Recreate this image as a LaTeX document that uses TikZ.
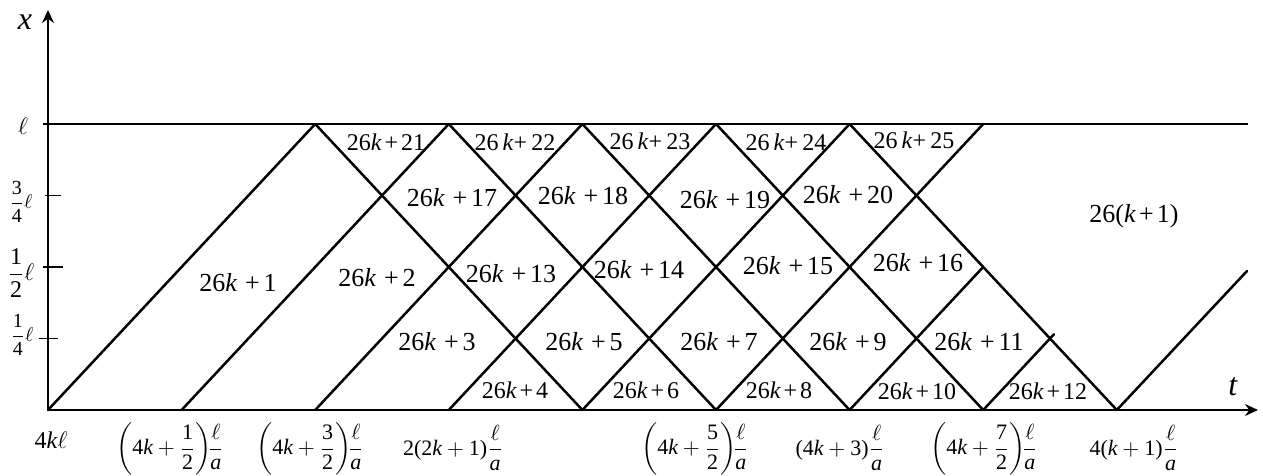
\documentclass[tikz,border=0pt]{standalone}
\usepackage{amsmath}
\usepackage{fontspec}
\setmainfont{Liberation Serif}
\usetikzlibrary{arrows.meta,calc}
\newcommand{\kk}{\textit{k}}
\newcommand{\pp}{\hspace{0.3em}+\hspace{0.15em}}
\newcommand{\ps}{\hspace{0.12em}+\hspace{0.12em}}
\newcommand{\tx}[1]{\text{#1}}
\begin{document}
\begin{tikzpicture}[x=0.5pt,y=-0.5pt,
  wave/.style={line width=1.25pt,line cap=round},
  axisline/.style={line width=0.75pt},
  arrowaxis/.style={line width=0.75pt,-{Stealth[length=6.5pt,width=6pt]}},
  big/.style={inner sep=0pt,font=\fontsize{13}{15}\selectfont},
  small/.style={inner sep=0pt,font=\fontsize{12}{14}\selectfont},
  tlab/.style={inner sep=0pt,font=\fontsize{11}{13}\selectfont},
  axlab/.style={inner sep=0pt,font=\fontsize{16}{18}\selectfont},
]
\useasboundingbox (0,0) rectangle (1263,476);

% grid coordinates
\foreach \i in {0,...,8}{
  \coordinate (b\i) at ({48+133.6*\i},410);
  \coordinate (u\i) at ({48+133.6*\i},124);
}
\coordinate (xtip) at (48,10);
\coordinate (ttip) at (1258,410);
\coordinate (lstart) at (43,124);
\coordinate (lend) at (1248,124);
\coordinate (h7) at ({48+133.6*7},267);
\coordinate (q7) at ({48+133.6*7.5},338.5);
\coordinate (e7) at ($(b7)!1.06!(q7)$);
\coordinate (e8) at (1247,271);

% axes
\draw[arrowaxis] (b0) -- (xtip);
\draw[arrowaxis] (b0) -- (ttip);
\draw[axisline] (lstart) -- (lend);
\coordinate (k3a) at (45,195.5); \coordinate (k3b) at (61,195.5);
\coordinate (k2a) at (43,267);   \coordinate (k2b) at (63,267);
\coordinate (k1a) at (39,338.5); \coordinate (k1b) at (58,338.5);
\draw[axisline] (k3a) -- (k3b);
\draw[axisline] (k2a) -- (k2b);
\draw[axisline] (k1a) -- (k1b);

% characteristic lines
\draw[wave] (b0) -- (u2);
\draw[wave] (b1) -- (u3);
\draw[wave] (b2) -- (u4);
\draw[wave] (b3) -- (u5);
\draw[wave] (b4) -- (u6);
\draw[wave] (b5) -- (u7);
\draw[wave] (b6) -- (h7);
\draw[wave] (b7) -- (e7);
\draw[wave] (b8) -- (e8);
\draw[wave] (u2) -- (b4);
\draw[wave] (u3) -- (b5);
\draw[wave] (u4) -- (b6);
\draw[wave] (u5) -- (b7);
\draw[wave] (u6) -- (b8);

% axis labels
\node[axlab] (xl) at (25,22) {\textit{x}};
\node[axlab] (tl) at (1233,387) {\textit{t}};
\node[inner sep=0pt,font=\fontsize{13}{15}\selectfont] (ll) at (23,126) {$\ell$};
\node[inner sep=0pt,font=\fontsize{10}{12}\selectfont] (l34) at (21,202) {$\dfrac{\tx{3}}{\tx{4}}\ell$};
\node[inner sep=0pt,font=\fontsize{12}{14}\selectfont] (l12) at (21,273) {$\dfrac{\tx{1}}{\tx{2}}\ell$};
\node[inner sep=0pt,font=\fontsize{10}{12}\selectfont] (l14) at (22,335) {$\dfrac{\tx{1}}{\tx{4}}\ell$};

% time labels
\node[tlab,font=\fontsize{12}{14}\selectfont] (t0) at (51,440) {4\kk$\ell$};
\node[tlab] (t1) at (170,449) {${\left(\tx{4}\kk+\dfrac{\tx{1}}{\tx{2}}\right)}\!\dfrac{\ell}{\textit{a}}$};
\node[tlab] (t2) at (310,449) {${\left(\tx{4}\kk+\dfrac{\tx{3}}{\tx{2}}\right)}\!\dfrac{\ell}{\textit{a}}$};
\node[tlab] (t3) at (453,448) {$\tx{2(2}\kk+\tx{1)}\dfrac{\ell}{\textit{a}}$};
\node[tlab] (t5) at (695,449) {${\left(\tx{4}\kk+\dfrac{\tx{5}}{\tx{2}}\right)}\!\dfrac{\ell}{\textit{a}}$};
\node[tlab] (t6) at (840,448) {$\tx{(4}\kk+\tx{3)}\dfrac{\ell}{\textit{a}}$};
\node[tlab] (t7) at (984,449) {${\left(\tx{4}\kk+\dfrac{\tx{7}}{\tx{2}}\right)}\!\dfrac{\ell}{\textit{a}}$};
\node[tlab] (t8) at (1134,448) {$\tx{4(}\kk+\tx{1)}\dfrac{\ell}{\textit{a}}$};

% region labels
\node[big] (r1) at (238,283) {26\kk\pp1};
\node[big] (r2) at (377,278) {26\kk\pp2};
\node[big] (r3) at (437,342) {26\kk\pp3};
\node[small] (r4) at (515,390) {26\kk\ps4};
\node[big] (r5) at (584,342) {26\kk\pp5};
\node[small] (r6) at (646,390) {26\kk\ps6};
\node[big] (r7) at (719,342) {26\kk\pp7};
\node[small] (r8) at (779,390) {26\kk\ps8};
\node[big] (r9) at (848,342) {26\kk\pp9};
\node[small] (r10) at (917,391) {26\kk\ps10};
\node[big] (r11) at (979,342) {26\kk\pp11};
\node[small] (r12) at (1048,391) {26\kk\ps12};
\node[big] (r13) at (511,274) {26\kk\pp13};
\node[big] (r14) at (639,270) {26\kk\pp14};
\node[big] (r15) at (788,266) {26\kk\pp15};
\node[big] (r16) at (918,263) {26\kk\pp16};
\node[big] (r17) at (452,198) {26\kk\pp17};
\node[big] (r18) at (583,196) {26\kk\pp18};
\node[big] (r19) at (725,200) {26\kk\pp19};
\node[big] (r20) at (848,195) {26\kk\pp20};
\node[small] (r21) at (386,142) {26\kk\ps21};
\node[small] (r22) at (515,142) {26\,\kk+\,22};
\node[small] (r23) at (650,141) {26\,\kk+\,23};
\node[small] (r24) at (786,142) {26\,\kk+\,24};
\node[small] (r25) at (914,140) {26\,\kk+\,25};
\node[inner sep=0pt,font=\fontsize{13}{15}\selectfont] (r26) at (1134,216) {26(\kk\ps1)};
\end{tikzpicture}
\end{document}
